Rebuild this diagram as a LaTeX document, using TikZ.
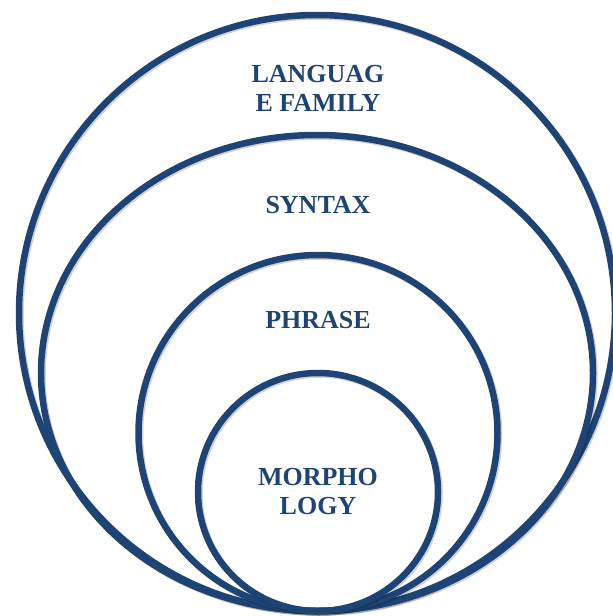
\documentclass[tikz,border=0pt]{standalone}
\usepackage{fontspec}
\setmainfont{Liberation Serif}
\usepackage{xcolor}
\usepackage{tikz}
\usetikzlibrary{shapes.geometric, positioning}
\definecolor{navy}{HTML}{1E4476}

\begin{document}
\begin{tikzpicture}[x=1pt, y=-1pt,
    ring/.style={draw=navy, line width=6.5pt, ellipse, inner sep=0pt, outer sep=0pt,
        preaction={draw=black, draw opacity=0.18, transform canvas={xshift=1.5pt, yshift=-1.5pt}}},
    word/.style={text=navy, align=center, inner sep=0pt, font=\fontsize{26}{29}\selectfont\bfseries}]
    \useasboundingbox (0,0) rectangle (613,616);
    \clip (0,0) rectangle (613,616);
    % Draw the nested rings, all touching at the bottom
    \foreach \n/\cx/\cy/\w/\h in {family/317/313/596/596, syntax/317/373/552/476,
                                  phrase/318/433/359/356, morph/318/492/240/238} {
        \node[ring, minimum width=\w pt, minimum height=\h pt] (\n) at (\cx,\cy) {};
    }
    % Ring labels
    \node[word] (familyText) at (318,88) {LANGUAG\\E FAMILY};
    \node[word] (syntaxText) at (318,205) {SYNTAX};
    \node[word] (phraseText) at (318,320) {PHRASE};
    \node[word] (morphText) at (morph.center) {MORPHO\\LOGY};
\end{tikzpicture}
\end{document}
